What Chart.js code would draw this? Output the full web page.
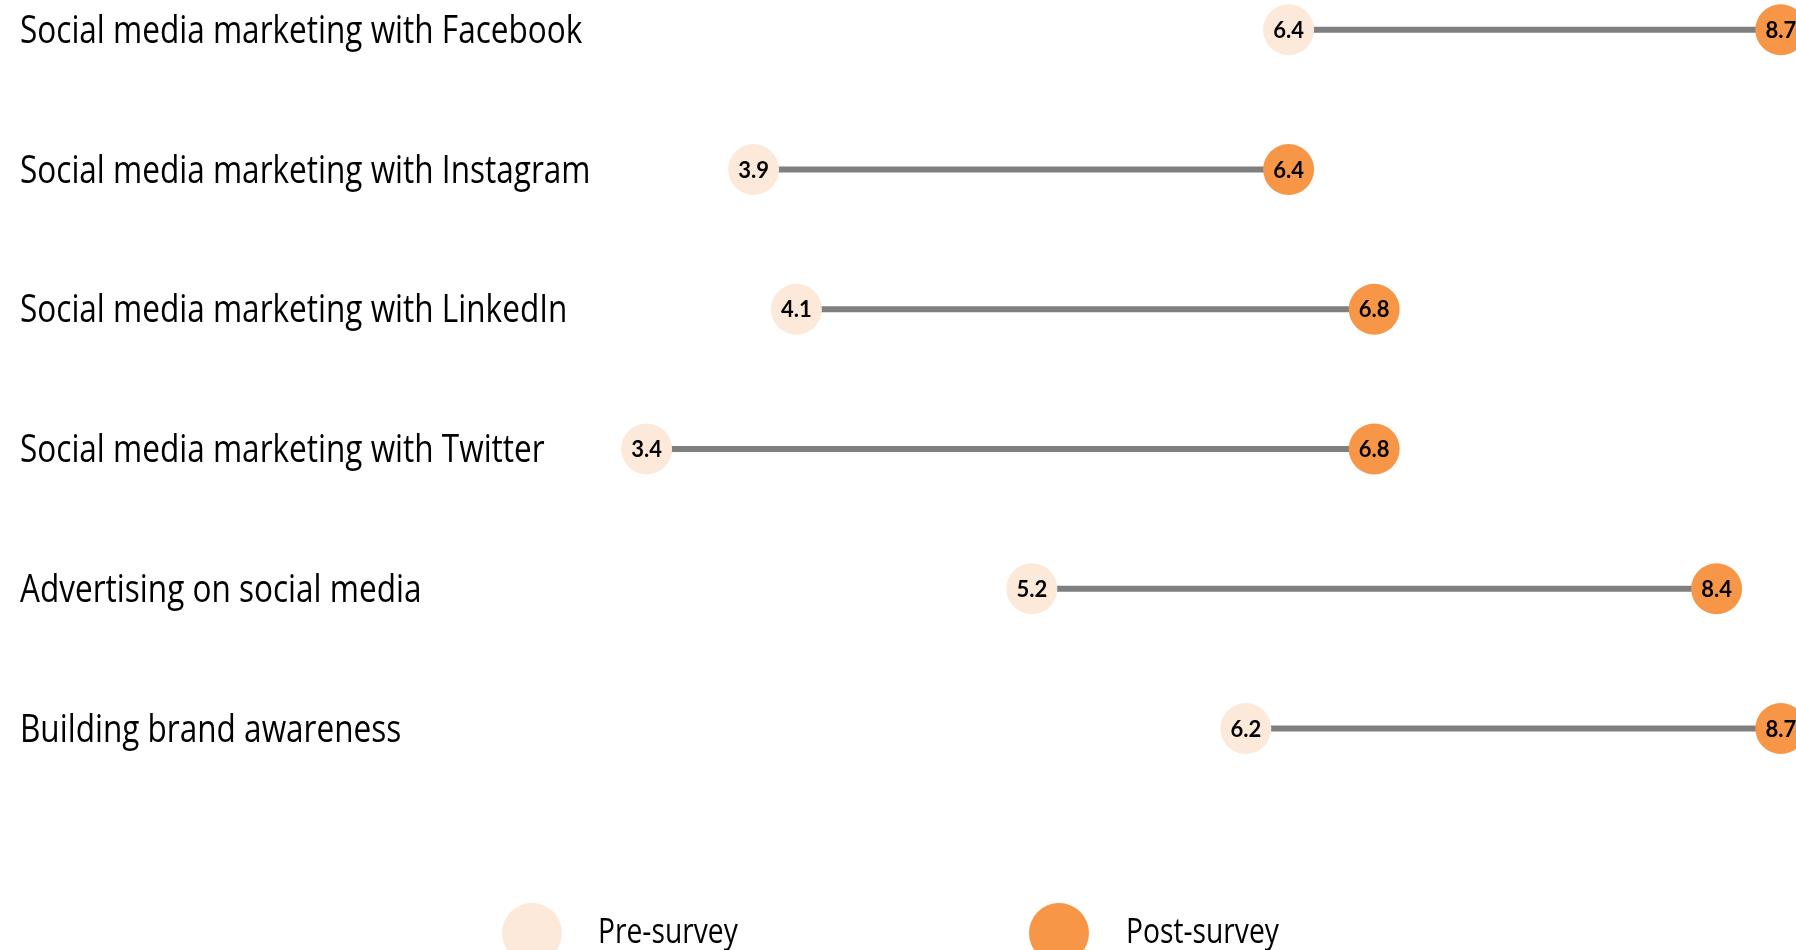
<!DOCTYPE html>
<html>
<head>
<meta charset="utf-8">
<title>Pre vs post survey</title>
<script src="https://cdn.jsdelivr.net/npm/chart.js@4.4.1/dist/chart.umd.min.js"></script>
<style>
  html, body { margin: 0; padding: 0; background: #fff; }
  #wrap { width: 1796px; height: 950px; position: relative; }
</style>
</head>
<body>
<div id="wrap"><canvas id="chart"></canvas></div>
<script>
'use strict';

const categories = [
    'Social media marketing with Facebook',
    'Social media marketing with Instagram',
    'Social media marketing with LinkedIn',
    'Social media marketing with Twitter',
    'Advertising on social media',
    'Building brand awareness',
];
const preSurvey = [6.4, 3.9, 4.1, 3.4, 5.2, 6.2];
const postSurvey = [8.7, 6.4, 6.8, 6.8, 8.4, 8.7];
const seriesNames = ['Pre-survey', 'Post-survey'];

const PRE_COLOR = '#FDE9D9';
const POST_COLOR = '#F79646';
const LINE_COLOR = '#7F7F7F';
// no condensed face installed, so squeeze Open Sans sideways
const NARROW = 0.83;

const drawNarrow = (ctx, text, x, y, size) => {
    ctx.save();
    ctx.font = `${size}px 'Open Sans', sans-serif`;
    ctx.fillStyle = '#000';
    ctx.textAlign = 'left';
    ctx.textBaseline = 'alphabetic';
    ctx.translate(x, y);
    ctx.scale(NARROW, 1);
    ctx.fillText(text, 0, 0);
    ctx.restore();
};

// category names on the left, one per row
const categoryLabels = {
    id: 'categoryLabels',
    afterDraw(chart) {
        const { ctx, scales } = chart;
        categories.forEach((name, i) => {
            drawNarrow(ctx, name, 20, scales.y.getPixelForValue(i) + 13, 38);
        });
    }
};

// numbers inside each circle
const valueLabels = {
    id: 'valueLabels',
    afterDatasetsDraw(chart) {
        const { ctx } = chart;
        ctx.save();
        ctx.font = "bold 22px Lato, 'Open Sans', sans-serif";
        ctx.fillStyle = '#000';
        ctx.textAlign = 'center';
        ctx.textBaseline = 'middle';
        chart.data.datasets.forEach((ds, di) => {
            if (!ds.isDot) return;
            chart.getDatasetMeta(di).data.forEach((pt, j) => {
                ctx.fillText(ds.data[j].x.toFixed(1), pt.x, pt.y + 1);
            });
        });
        ctx.restore();
    }
};

// legend at the bottom
const bottomLegend = {
    id: 'bottomLegend',
    afterDraw(chart) {
        const { ctx } = chart;
        const items = [
            { cx: 532, tx: 598, color: PRE_COLOR, name: seriesNames[0] },
            { cx: 1059, tx: 1126, color: POST_COLOR, name: seriesNames[1] },
        ];
        items.forEach(it => {
            ctx.save();
            ctx.beginPath();
            ctx.arc(it.cx, 933, 30, 0, Math.PI * 2);
            ctx.fillStyle = it.color;
            ctx.fill();
            ctx.restore();
            drawNarrow(ctx, it.name, it.tx, 943, 34);
        });
    }
};

const connectors = categories.map((c, i) => ({
    type: 'line',
    label: c,
    data: [{ x: preSurvey[i], y: i }, { x: postSurvey[i], y: i }],
    borderColor: LINE_COLOR,
    borderWidth: 6,
    pointRadius: 0,
    clip: false,
    order: 2,
}));

const dots = [
    { values: preSurvey, color: PRE_COLOR, name: seriesNames[0] },
    { values: postSurvey, color: POST_COLOR, name: seriesNames[1] },
].map(s => ({
    type: 'scatter',
    label: s.name,
    isDot: true,
    data: s.values.map((v, i) => ({ x: v, y: i })),
    backgroundColor: s.color,
    borderWidth: 0,
    pointRadius: 25.5,
    pointHoverRadius: 25.5,
    clip: false,
    order: 1,
}));

new Chart(document.getElementById('chart'), {
    type: 'scatter',
    data: { datasets: [...dots, ...connectors] },
    options: {
        responsive: true,
        maintainAspectRatio: false,
        animation: false,
        layout: { padding: 0, autoPadding: false },
        plugins: {
            legend: { display: false },
            tooltip: { enabled: false },
        },
        scales: {
            x: { type: 'linear', display: false, min: 0.3785, max: 8.771 },
            y: { type: 'linear', display: false, reverse: true, min: -0.213, max: 6.585 },
        },
    },
    plugins: [categoryLabels, valueLabels, bottomLegend],
});
</script>
</body>
</html>
